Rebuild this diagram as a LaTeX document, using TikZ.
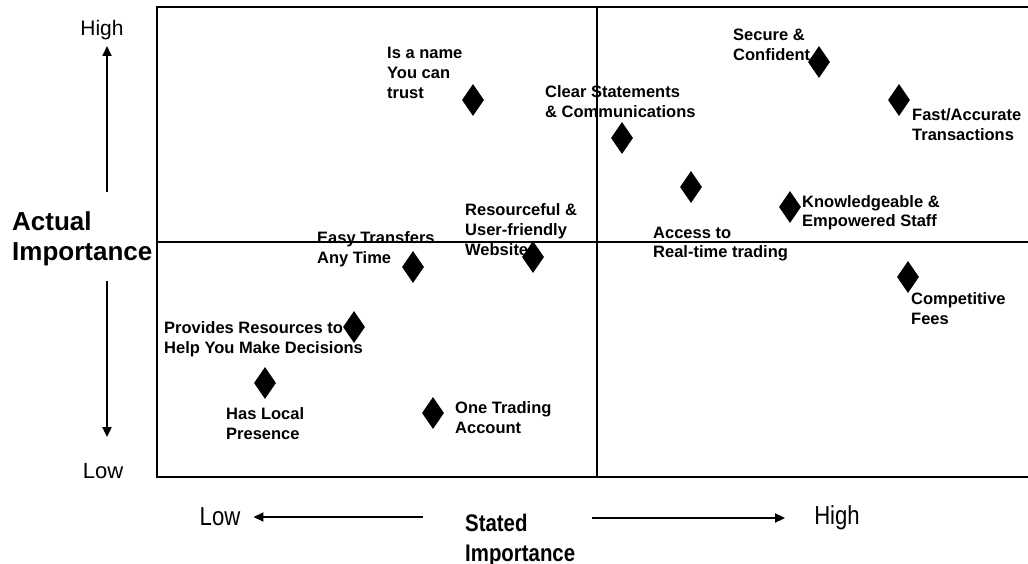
\documentclass[tikz,border=0pt]{standalone}
\usepackage{fontspec}
\setmainfont{Liberation Sans}
\newfontfamily\narrowfont[FakeStretch=0.85]{Liberation Sans}
\usetikzlibrary{arrows.meta, positioning, shapes.geometric}

\begin{document}
\begin{tikzpicture}[
    x=1pt, y=-1pt,
    every node/.style={inner sep=0pt},
    item/.style={diamond, fill=black, minimum width=22pt, minimum height=32pt},
    lbl/.style={anchor=base west, align=left, font=\fontsize{16.5}{20}\selectfont\bfseries},
    axis/.style={line width=1.8pt, -{Triangle[length=10pt, width=9pt]}},
    frame/.style={line width=1.6pt},
]
    \useasboundingbox (0,0) rectangle (1028,564);

    % Quadrant frame
    \draw[frame] (1028,7) -- (157,7) -- (157,477) -- (1028,477);
    \draw[frame] (597,7) -- (597,477);
    \draw[frame] (157,242) -- (1028,242);

    % Attributes
    \node[item] (name) at (473,100) {};
    \node[item] (clear) at (622,138) {};
    \node[item] (secure) at (819,62) {};
    \node[item] (fast) at (899,100) {};
    \node[item] (access) at (691,187) {};
    \node[item] (staff) at (790,207) {};
    \node[item] (fees) at (908,277) {};
    \node[item] (web) at (533,257) {};
    \node[item] (transfer) at (413,267) {};
    \node[item] (decide) at (354,327) {};
    \node[item] (local) at (265,383) {};
    \node[item] (account) at (433,413) {};

    % Labels (anchored on the last line)
    \node[lbl] (nameL) at (387,99) {Is a name\\You can\\trust};
    \node[lbl] (clearL) at (545,118) {Clear Statements\\\& Communications};
    \node[lbl] (secureL) at (733,61) {Secure \&\\Confident};
    \node[lbl] (fastL) at (912,141) {Fast/Accurate\\Transactions};
    \node[lbl] (accessL) at (653,258) {Access to\\Real-time trading};
    \node[lbl] (staffL) at (802,227) {Knowledgeable \&\\Empowered Staff};
    \node[lbl] (feesL) at (911,324) {Competitive\\Fees};
    \node[lbl] (webL) at (465,255) {Resourceful \&\\User-friendly\\Website};
    \node[lbl] (transferL) at (317,263) {Easy Transfers\\Any Time};
    \node[lbl] (decideL) at (164,353) {Provides Resources to\\Help You Make Decisions};
    \node[lbl] (localL) at (226,439) {Has Local\\Presence};
    \node[lbl] (accountL) at (455,433) {One Trading\\Account};

    % Vertical axis
    \node[font=\fontsize{21}{24}\selectfont] (highY) at (102,30) {High};
    \node[anchor=base west, align=left, font=\fontsize{26}{31}\selectfont\bfseries] (ylab) at (12,261) {Actual\\Importance};
    \node[font=\fontsize{22}{24}\selectfont] (lowY) at (103,471) {Low};
    \draw[axis, shorten <=19pt, shorten >=6pt] ([xshift=5pt]ylab.north -| highY.south) -- ([xshift=5pt]highY.south);
    \draw[axis, shorten <=14pt, shorten >=26pt] ([xshift=4pt]ylab.south -| lowY.north) -- ([xshift=4pt]lowY.north);

    % Horizontal axis
    \node[font=\fontsize{26}{28}\narrowfont] (lowX) at (220,517) {Low};
    \node[anchor=base west, align=left, font=\fontsize{24}{30}\narrowfont\bfseries] (xlab) at (465,561) {Stated\\Importance};
    \node[font=\fontsize{26}{28}\narrowfont] (highX) at (837,518) {High};
    \draw[axis, shorten <=42pt, shorten >=13pt] (xlab.west |- lowX.east) -- (lowX.east);
    \draw[axis, shorten <=17pt, shorten >=29pt] (xlab.east |- highX.west) -- (highX.west);
\end{tikzpicture}
\end{document}
